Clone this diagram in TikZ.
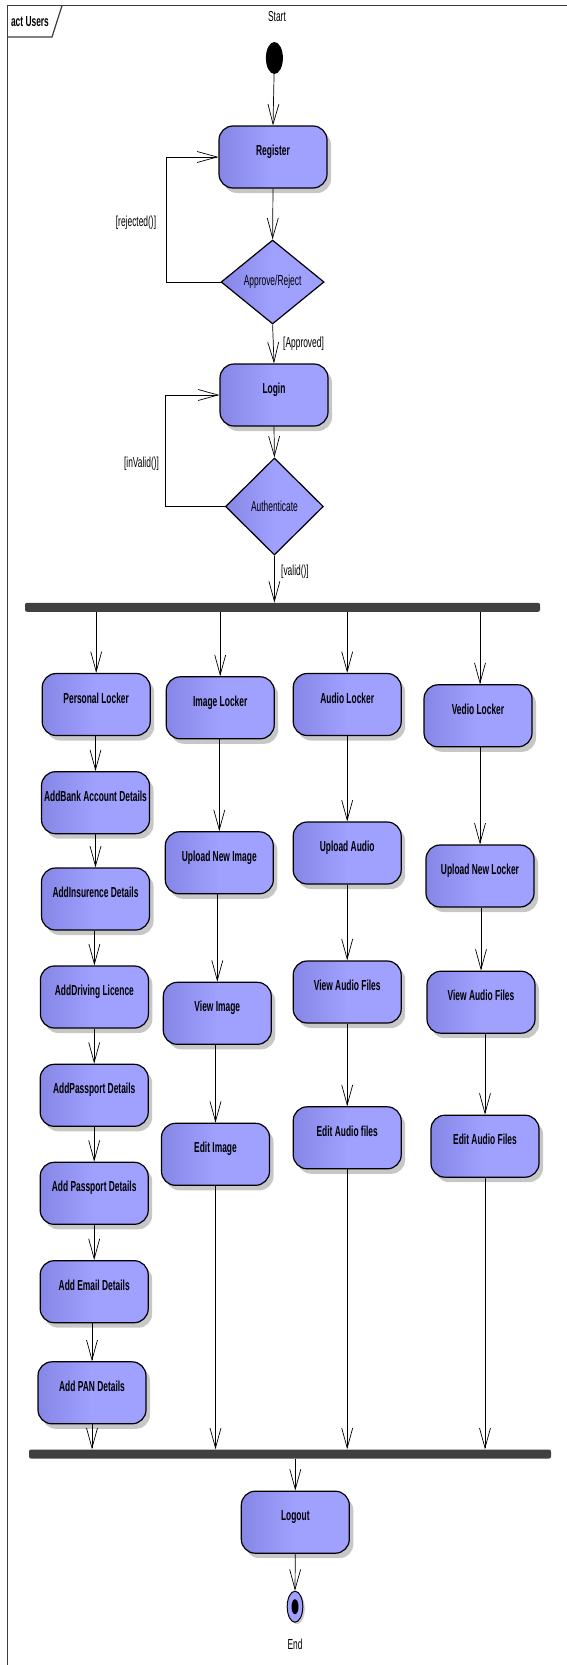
\documentclass[tikz,border=0pt]{standalone}
\usepackage{fontspec}
\setmainfont{Liberation Sans}
\newfontfamily\nar[FakeStretch=0.58]{Liberation Sans}
\usetikzlibrary{shapes.geometric,arrows.meta,shadows,calc}
\definecolor{boxL}{RGB}{134,134,230}
\definecolor{boxR}{RGB}{160,160,255}
\definecolor{barc}{RGB}{64,64,64}
\definecolor{framec}{RGB}{60,60,60}
\begin{document}
\begin{tikzpicture}[x=1pt,y=-1pt,
  txt/.style={font=\fontsize{14.5}{17}\selectfont\nar, inner sep=0pt},
  act/.style={draw=black, line width=1.2pt, rounded corners=14pt,
    minimum width=108pt, minimum height=62pt, inner sep=0pt,
    text height=10pt, text depth=13pt,
    left color=boxL, right color=boxR, middle color=boxR,
    drop shadow={shadow xshift=4pt, shadow yshift=-5pt, fill=black, opacity=0.22},
    font=\fontsize{14.5}{17}\selectfont\nar\bfseries},
  dec/.style={diamond, aspect=1, draw=black, line width=1.2pt, inner sep=0pt,
    minimum width=103pt, minimum height=84pt,
    left color=boxL, right color=boxR, middle color=boxR,
    font=\fontsize{14.5}{17}\selectfont\nar},
  barsty/.style={fill=barc, rounded corners=2pt, inner sep=0pt, minimum height=9pt},
  arr/.style={draw=black, line width=0.7pt, -{Straight Barb[length=20pt,width=11pt]}},
  ln/.style={draw=black, line width=0.7pt}]
\useasboundingbox (0,0) rectangle (566,1665);
\fill[white] (0,0) rectangle (566,1665);
% frame
\draw[framec, line width=1.2pt] (7.2,1670) -- (7.2,5.7) -- (570,5.7);
\draw[framec, line width=1.2pt] (7.2,37) -- (52,37) -- (62,5.7);
\node[txt, font=\fontsize{14.5}{17}\selectfont\nar\bfseries] (title) at (30,22) {act Users};
% start
\node[txt] (startlbl) at (277,17) {Start};
\node[ellipse, fill=black, minimum width=17pt, minimum height=32pt, inner sep=0pt] (start) at (274.4,58) {};
\node[act] (reg) at (273,157) {Register};
\node[dec] (ar) at (272.6,282) {Approve/Reject};
\node[act] (login) at (274,395) {Login};
\node[dec, minimum width=98pt, minimum height=97pt] (auth) at (274.4,506.5) {Authenticate};
\node[barsty, minimum width=515pt] (fork) at (282.5,607.3) {};
% column 1
\node[act] (pl) at (96.2,704.5) {Personal Locker};
\node[act] (bank) at (95.5,802.7) {AddBank Account Details};
\node[act] (ins) at (95.5,899) {AddInsurence Details};
\node[act] (drv) at (94.4,997) {AddDriving Licence};
\node[act] (ppa) at (94.2,1095.3) {AddPassport Details};
\node[act] (ppb) at (94.2,1193.3) {Add Passport Details};
\node[act] (email) at (94.2,1291.7) {Add Email Details};
\node[act] (pan) at (92,1392.8) {Add PAN Details};
% column 2
\node[act] (il) at (220.2,707.8) {Image Locker};
\node[act] (uni) at (219.3,862.8) {Upload New Image};
\node[act] (vi) at (217.3,1013.3) {View Image};
\node[act] (ei) at (215.5,1154.3) {Edit Image};
% column 3
\node[act] (al) at (347.2,704.5) {Audio Locker};
\node[act] (ua) at (347.2,853) {Upload Audio};
\node[act] (vafa) at (347.2,992) {View Audio Files};
\node[act] (eafa) at (347.2,1137.8) {Edit Audio files};
% column 4
\node[act] (vl) at (478,715.8) {Vedio Locker};
\node[act] (unl) at (480,876) {Upload New Locker};
\node[act] (vafb) at (481,1002.2) {View Audio Files};
\node[act] (eafb) at (485,1146.2) {Edit Audio Files};
% join, logout, end
\node[barsty, minimum width=522pt] (join) at (290,1454) {};
\node[act] (logout) at (295.3,1522.2) {Logout};
\node[ellipse, draw=black, line width=1pt, fill=boxR, minimum width=15.6pt, minimum height=31pt, inner sep=0pt,
  drop shadow={shadow xshift=2pt, shadow yshift=-2pt, fill=black, opacity=0.2}] (end) at (295,1606.7) {};
\node[ellipse, fill=black, minimum width=7pt, minimum height=15pt, inner sep=0pt] (endin) at (end) {};
\node[txt] (endlbl) at (295,1644.3) {End};
% guard labels
\node[txt] (rej) at (136,223) {[rejected()]};
\node[txt, anchor=west] (appr) at (283,344) {[Approved]};
\node[txt] (inv) at (141.5,464) {[inValid()]};
\node[txt, anchor=west] (val) at (281,572) {[valid()]};
% connectors top
\draw[arr] (start) -- (reg.north);
\draw[arr] (reg.south) -- (ar.north);
\draw[arr] (ar.south) -- (login.north);
\draw[arr] (ar.west) -- ++(-54,0) |- (reg.west);
\draw[arr] (login.south) -- (auth.north);
\draw[arr] (auth.west) -- ++(-59.7,0) |- (login.west);
\draw[arr] (auth.south) -- (auth.south |- fork.north);
% fork branches
\draw[arr] (fork.south -| pl.north) -- (pl.north);
\draw[arr] (fork.south -| il.north) -- (il.north);
\draw[arr] (fork.south -| al.north) -- (al.north);
\draw[arr] (fork.south -| unl.north) -- (vl.north -| unl.north);
% column 1
\draw[arr] (pl.south -| bank.north) -- (bank.north);
\draw[arr] (bank.south -| ins.north) -- (ins.north);
\draw[arr] (ins.south -| drv.north) -- (drv.north);
\draw[arr] (drv.south -| ppa.north) -- (ppa.north);
\draw[arr] (ppa.south -| ppb.north) -- (ppb.north);
\draw[arr] (ppb.south -| email.north) -- (email.north);
\draw[arr] (email.south -| pan.north) -- (pan.north);
\draw[arr] (pan.south) -- (pan.south |- join.north);
% column 2
\draw[arr] (il.south -| uni.north) -- (uni.north);
\draw[arr] (uni.south -| vi.north) -- (vi.north);
\draw[arr] (vi.south -| ei.north) -- (ei.north);
\draw[arr] (ei.south) -- (ei.south |- join.north);
% column 3
\draw[arr] (al.south) -- (ua.north);
\draw[arr] (ua.south) -- (vafa.north);
\draw[arr] (vafa.south) -- (eafa.north);
\draw[arr] (eafa.south) -- (eafa.south |- join.north);
% column 4
\draw[arr] (vl.south -| unl.north) -- (unl.north);
\draw[arr] (unl.south -| vafb.north) -- (vafb.north);
\draw[arr] (vafb.south -| eafb.north) -- (eafb.north);
\draw[arr] (eafb.south) -- (eafb.south |- join.north);
% bottom
\draw[arr] (join.south -| logout.north) -- (logout.north);
\draw[arr] (logout.south) -- (end.north);
\end{tikzpicture}
\end{document}
